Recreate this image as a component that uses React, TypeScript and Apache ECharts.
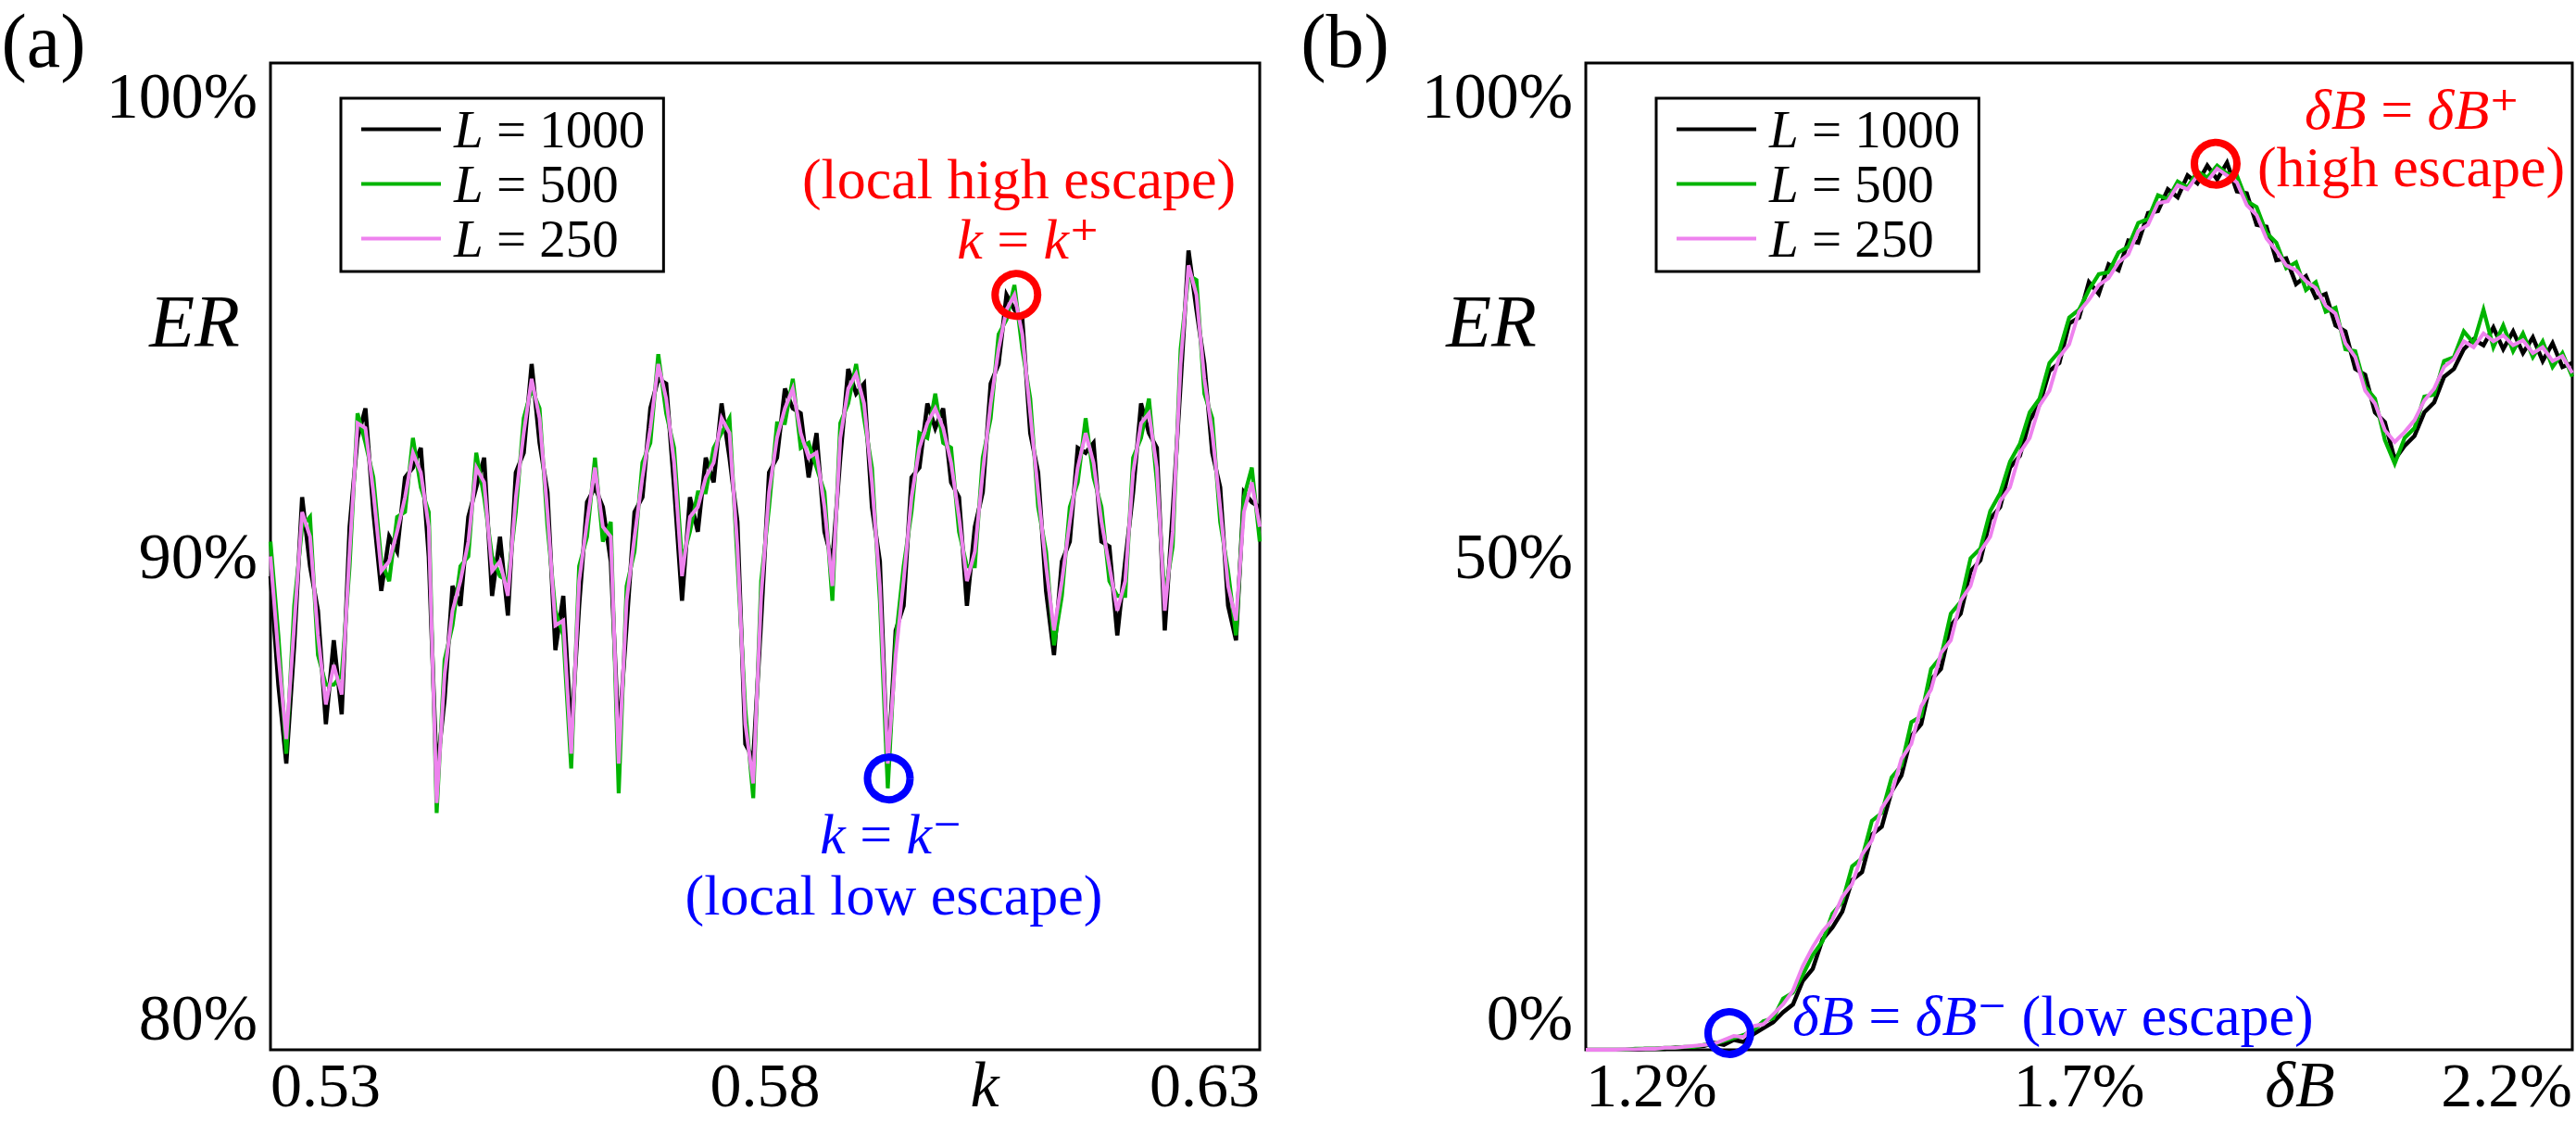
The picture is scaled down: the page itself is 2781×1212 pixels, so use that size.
import React, { useEffect, useRef } from 'react';
import * as echarts from 'echarts';

// ---------- data ----------
const seriesNames = ['L = 1000', 'L = 500', 'L = 250'];
const seriesColors = ['#000000', '#00b400', '#ee82ee'];

// panel (a): k axis
const kTicks = [0.53, 0.58, 0.63];
const erTicksA = [80, 90, 100];
const kStart = 0.53;
const kStep = 0.0008;

const erA1000 = [
  89.6, 87.4, 85.8, 88.2, 91.2, 89.8, 88.9, 86.6, 88.3, 86.8,
  90.6, 92.4, 93.0, 90.9, 89.3, 90.4, 90.1, 91.6, 91.8, 92.2,
  90.0, 85.6, 87.1, 89.4, 89.0, 90.8, 91.4, 92.0, 89.2, 90.4,
  88.8, 91.7, 92.1, 93.9, 92.3, 91.3, 88.1, 89.2, 86.4, 89.0,
  91.1, 91.4, 91.0, 89.9, 86.3, 88.6, 90.9, 91.2, 93.0, 93.6,
  93.5, 91.4, 89.1, 91.2, 90.5, 92.0, 91.5, 93.1, 92.0, 90.7,
  86.2, 85.9, 88.7, 91.7, 92.0, 93.4, 93.0, 92.9, 91.6, 92.5,
  90.5, 89.9, 92.0, 93.8, 93.3, 93.5, 91.0, 89.9, 85.6, 88.5,
  89.0, 91.6, 91.8, 93.1, 92.6, 93.0, 91.5, 91.2, 89.0, 90.6,
  91.3, 93.5, 93.9, 95.3, 95.0, 94.8, 92.5, 91.7, 89.3, 88.0,
  89.9, 90.3, 92.2, 92.1, 92.3, 90.3, 90.2, 88.4, 89.9, 91.3,
  93.1, 92.5, 92.2, 88.5, 90.9, 93.5, 96.2, 95.0, 93.9, 92.1,
  91.4, 89.0, 88.3, 91.3, 91.1, 91.0,
];
const erA500 = [
  90.3, 88.4, 86.0, 89.0, 90.6, 90.8, 88.0, 87.4, 87.4, 87.6,
  89.8, 92.9, 92.3, 91.6, 89.9, 89.5, 90.8, 90.9, 92.4, 91.4,
  90.9, 84.8, 87.9, 88.6, 89.8, 90.0, 92.1, 91.2, 90.0, 89.6,
  89.5, 90.9, 92.8, 93.4, 93.0, 90.6, 88.9, 88.4, 85.7, 89.8,
  90.4, 92.0, 90.3, 90.7, 85.2, 89.4, 90.1, 91.9, 92.3, 94.1,
  92.9, 92.2, 89.9, 90.5, 91.3, 91.3, 92.2, 92.5, 92.8, 89.9,
  86.9, 85.1, 89.5, 91.0, 92.7, 92.7, 93.6, 92.2, 92.3, 91.8,
  91.3, 89.1, 92.7, 93.1, 93.9, 92.8, 91.8, 89.1, 85.3, 88.3,
  89.8, 90.9, 92.5, 92.4, 93.3, 92.3, 92.2, 90.5, 89.8, 89.8,
  92.0, 92.8, 94.5, 94.8, 95.5, 94.2, 93.2, 91.0, 90.1, 88.2,
  89.2, 91.0, 91.5, 92.8, 91.6, 91.0, 89.5, 89.2, 89.2, 92.0,
  92.4, 93.2, 91.5, 89.2, 90.2, 94.2, 95.7, 95.6, 93.3, 92.8,
  90.7, 89.7, 88.4, 91.2, 91.8, 90.3,
];
const erA250 = [
  90.0, 88.0, 86.3, 88.6, 90.9, 90.4, 88.4, 87.0, 87.8, 87.2,
  90.1, 92.7, 92.6, 91.3, 89.7, 89.9, 90.5, 91.2, 92.1, 91.7,
  90.6, 85.0, 87.6, 88.9, 89.5, 90.3, 91.8, 91.5, 89.7, 89.9,
  89.2, 91.2, 92.5, 93.6, 92.8, 90.9, 88.6, 88.7, 86.0, 89.5,
  90.7, 91.8, 90.6, 90.4, 85.8, 89.1, 90.4, 91.6, 92.6, 93.9,
  93.2, 91.9, 89.6, 90.8, 91.0, 91.6, 91.9, 92.8, 92.5, 90.2,
  86.6, 85.4, 89.2, 91.3, 92.4, 93.0, 93.4, 92.5, 92.0, 92.1,
  91.0, 89.4, 92.4, 93.4, 93.7, 93.1, 91.5, 89.4, 85.8, 88.0,
  89.5, 91.2, 92.2, 92.7, 93.0, 92.6, 91.9, 90.8, 89.5, 90.1,
  91.7, 93.1, 94.2, 95.0, 95.3, 94.5, 92.9, 91.3, 89.8, 88.5,
  89.5, 90.7, 91.8, 92.5, 91.9, 90.7, 89.8, 88.9, 89.5, 91.7,
  92.7, 92.9, 91.8, 88.9, 90.5, 93.9, 95.9, 95.3, 93.6, 92.5,
  91.0, 89.4, 88.7, 90.9, 91.5, 90.6,
];

// panel (b): deltaB axis
const dbTicks = [1.2, 1.7, 2.2];
const erTicksB = [0, 50, 100];
const dbStart = 1.2;
const dbStep = 0.01;

const erB1000 = [
  0, 0, 0, 0, 0, 0, 0.1, 0.1, 0.1, 0.2,
  0.2, 0.3, 0.4, 0.7, 0.5, 1.0, 0.8, 1.6, 2.2, 2.8,
  3.8, 4.6, 7.0, 8.2, 11.2, 12.4, 14.0, 17.2, 18.0, 21.8,
  22.6, 26.2, 27.8, 31.8, 33.0, 37.5, 38.6, 43.0, 44.2, 48.5,
  49.6, 53.8, 55.0, 59.0, 60.2, 63.8, 65.4, 68.8, 69.6, 73.6,
  74.2, 77.8, 76.6, 79.6, 79.0, 82.0, 81.8, 84.8, 85.0, 87.2,
  86.4, 88.6, 87.8, 89.6, 88.2, 89.9, 87.0, 86.8, 83.6, 83.4,
  80.0, 80.2, 77.6, 78.4, 76.2, 76.6, 73.4, 72.8, 69.0, 68.4,
  64.6, 63.6, 59.8, 61.2, 62.2, 64.6, 65.6, 68.2, 69.0, 71.0,
  72.0, 71.4, 73.2, 71.0, 72.8, 70.6, 72.2, 69.8, 71.6, 69.2,
  69.6,
];
const erB500 = [
  0, 0, 0, 0, 0, 0.1, 0.1, 0.1, 0.2, 0.2,
  0.3, 0.3, 0.5, 0.6, 0.9, 1.2, 1.5, 2.0, 2.9, 3.2,
  5.2, 5.8, 7.6, 9.6, 11.0, 13.8, 15.0, 18.6, 19.4, 23.2,
  24.0, 27.6, 28.8, 33.2, 33.8, 38.6, 39.8, 44.2, 45.4, 49.8,
  50.8, 54.6, 56.4, 59.6, 61.4, 64.6, 66.0, 69.6, 70.8, 74.2,
  75.0, 77.0, 78.6, 78.8, 80.8, 81.4, 83.8, 84.2, 86.6, 86.2,
  88.0, 87.4, 89.0, 88.4, 89.6, 88.8, 88.6, 86.0, 85.4, 82.8,
  81.8, 79.2, 79.8, 77.0, 77.8, 74.8, 75.2, 71.0, 70.8, 67.2,
  66.0, 61.8, 59.4, 62.0, 63.0, 66.2, 66.4, 69.8, 70.2, 72.8,
  71.6, 75.0, 71.2, 73.4, 70.8, 72.6, 70.2, 71.8, 69.2, 70.6,
  68.2,
];
const erB250 = [
  0, 0, 0, 0, 0.05, 0.05, 0.1, 0.1, 0.2, 0.2,
  0.3, 0.4, 0.5, 0.6, 1.0, 1.4, 1.3, 2.4, 2.6, 3.6,
  4.6, 6.0, 8.5, 10.4, 12.0, 13.2, 15.5, 16.8, 19.8, 21.2,
  24.5, 26.0, 29.5, 31.0, 34.8, 36.5, 40.2, 41.5, 45.5, 47.0,
  50.5, 52.0, 55.6, 57.0, 60.5, 62.0, 65.3, 66.8, 70.2, 71.5,
  74.8, 76.0, 77.5, 78.2, 79.8, 80.6, 83.0, 83.6, 85.8, 86.0,
  87.6, 87.2, 88.6, 88.0, 89.3, 88.6, 87.9, 85.6, 84.6, 82.2,
  81.0, 79.5, 79.0, 77.9, 77.2, 75.4, 74.6, 71.6, 70.2, 66.8,
  65.5, 62.8, 61.6, 62.6, 63.8, 65.8, 67.0, 69.2, 70.0, 71.8,
  71.2, 72.6, 71.8, 72.4, 71.4, 71.9, 70.6, 71.2, 69.8, 70.3,
  68.6,
];

// highlighted points [x, ER]
const markALow = [0.5925, 85.5];
const markAHigh = [0.6054, 95.3];
const markBLow = [1.3455, 1.7];
const markBHigh = [1.8385, 89.8];

// ---------- chart ----------
const FONT = '"Liberation Serif", "DejaVu Serif", serif';
const W = 2781;
const H = 1212;

function pairs(start: number, step: number, values: number[]) {
  return values.map((v, i) => [start + step * i, v]);
}

function lineSeries(name: string, color: string, width: number, xi: number, data: number[][], z: number) {
  return {
    type: 'line',
    name,
    xAxisIndex: xi,
    yAxisIndex: xi,
    data,
    showSymbol: false,
    symbol: 'none',
    lineStyle: { color, width, join: 'miter' },
    itemStyle: { color },
    z,
    silent: true,
  };
}

function circleSeries(xi: number, point: number[], color: string) {
  return {
    type: 'scatter',
    xAxisIndex: xi,
    yAxisIndex: xi,
    data: [point],
    symbol: 'circle',
    symbolSize: 46,
    itemStyle: { color: 'rgba(0,0,0,0)', borderColor: color, borderWidth: 8, opacity: 1 },
    z: 20,
    silent: true,
  };
}

function legendAt(left: number) {
  const base = { fontFamily: FONT, fontSize: 57, color: '#000' };
  return {
    data: seriesNames,
    orient: 'vertical',
    left,
    top: 106,
    icon: 'rect',
    itemWidth: 86,
    itemHeight: 4,
    itemGap: 2,
    padding: [5, 20, 7, 22],
    borderColor: '#000',
    borderWidth: 3,
    borderRadius: 0,
    backgroundColor: '#fff',
    selectedMode: false,
    formatter: (name: string) => '{i|L}{n| = ' + name.slice(4) + '}',
    textStyle: {
      ...base,
      lineHeight: 55,
      rich: {
        i: { ...base, fontStyle: 'italic', padding: [0, 0, 0, 9], lineHeight: 55 },
        n: { ...base, lineHeight: 55 },
      },
    },
    z: 30,
  };
}

function text(x: number, y: number, str: string, size: number, color: string, align = 'center', italic = false) {
  return {
    type: 'text',
    x,
    y,
    z: 40,
    silent: true,
    style: {
      text: str,
      fill: color,
      fontFamily: FONT,
      fontSize: size,
      fontStyle: italic ? 'italic' : 'normal',
      align,
      verticalAlign: 'middle',
    },
  };
}

function richText(x: number, y: number, str: string, size: number, color: string, align = 'center') {
  const base = { fontFamily: FONT, fontSize: size, fill: color };
  return {
    type: 'text',
    x,
    y,
    z: 40,
    silent: true,
    style: {
      text: str,
      ...base,
      align,
      verticalAlign: 'middle',
      rich: {
        i: { ...base, fontStyle: 'italic' },
        r: { ...base },
      },
    },
  };
}

function buildOption() {
  const names = seriesNames;
  const xLabel = { fontFamily: FONT, fontSize: 68, color: '#000', margin: 4 };
  const yLabel = { fontFamily: FONT, fontSize: 70, color: '#000', margin: 14 };
  const hidden = { axisLine: { show: false }, axisTick: { show: false }, splitLine: { show: false } };
  return {
    animation: false,
    backgroundColor: '#ffffff',
    grid: [
      { left: 292, top: 68, width: 1068, height: 1065, show: true, borderColor: '#000', borderWidth: 3, backgroundColor: 'transparent', containLabel: false },
      { left: 1712, top: 68, width: 1065, height: 1065, show: true, borderColor: '#000', borderWidth: 3, backgroundColor: 'transparent', containLabel: false },
    ],
    xAxis: [
      {
        type: 'value', gridIndex: 0, min: 0.53, max: 0.63, ...hidden,
        axisLabel: {
          ...xLabel, customValues: kTicks,
          alignMinLabel: 'left', alignMaxLabel: 'right',
          formatter: (v: number) => v.toFixed(2),
        },
      },
      {
        type: 'value', gridIndex: 1, min: 1.2, max: 2.2, ...hidden,
        axisLabel: {
          ...xLabel, customValues: dbTicks,
          alignMinLabel: 'left', alignMaxLabel: 'right',
          formatter: (v: number) => v.toFixed(1) + '%',
        },
      },
    ],
    yAxis: [
      {
        type: 'value', gridIndex: 0, min: 80, max: 100, ...hidden,
        axisLabel: {
          ...yLabel, customValues: erTicksA,
          verticalAlignMinLabel: 'bottom', verticalAlignMaxLabel: 'top',
          formatter: (v: number) => Math.round(v) + '%',
        },
      },
      {
        type: 'value', gridIndex: 1, min: 0, max: 100, ...hidden,
        axisLabel: {
          ...yLabel, customValues: erTicksB,
          verticalAlignMinLabel: 'bottom', verticalAlignMaxLabel: 'top',
          formatter: (v: number) => Math.round(v) + '%',
        },
      },
    ],
    legend: [legendAt(368), legendAt(1788)],
    series: [
      lineSeries(names[0], seriesColors[0], 4.5, 0, pairs(kStart, kStep, erA1000), 3),
      lineSeries(names[1], seriesColors[1], 4.2, 0, pairs(kStart, kStep, erA500), 4),
      lineSeries(names[2], seriesColors[2], 4, 0, pairs(kStart, kStep, erA250), 5),
      lineSeries(names[0], seriesColors[0], 4.5, 1, pairs(dbStart, dbStep, erB1000), 3),
      lineSeries(names[1], seriesColors[1], 4.2, 1, pairs(dbStart, dbStep, erB500), 4),
      lineSeries(names[2], seriesColors[2], 4, 1, pairs(dbStart, dbStep, erB250), 5),
      circleSeries(0, markALow, '#0000ff'),
      circleSeries(0, markAHigh, '#ff0000'),
      circleSeries(1, markBLow, '#0000ff'),
      circleSeries(1, markBHigh, '#ff0000'),
    ],
    graphic: [
      text(47, 44, '(a)', 82, '#000'),
      text(1452, 44, '(b)', 82, '#000'),
      text(210, 347, 'ER', 80, '#000', 'center', true),
      text(1610, 347, 'ER', 80, '#000', 'center', true),
      text(1063, 1170, 'k', 70, '#000', 'center', true),
      text(2483, 1170, 'δB', 70, '#000', 'center', true),
      text(1100, 193, '(local high escape)', 62, '#ff0000'),
      richText(1110, 258, '{i|k}{r| = }{i|k}{r|⁺}', 62, '#ff0000'),
      richText(962, 900, '{i|k}{r| = }{i|k}{r|⁻}', 62, '#0000ff'),
      text(965, 966, '(local low escape)', 62, '#0000ff'),
      richText(2604, 118, '{i|δB}{r| = }{i|δB}{r|⁺}', 62, '#ff0000'),
      text(2603, 180, '(high escape)', 62, '#ff0000'),
      richText(1935, 1096, '{i|δB}{r| = }{i|δB}{r|⁻ (low escape)}', 62, '#0000ff', 'left'),
    ],
  };
}

export default function App() {
  const ref = useRef<HTMLDivElement>(null);
  useEffect(() => {
    if (!ref.current) return;
    const chart = echarts.init(ref.current, null, { renderer: 'svg', width: W, height: H });
    chart.setOption(buildOption() as any);
    return () => chart.dispose();
  }, []);
  return (
    <div
      ref={ref}
      style={{ position: 'absolute', left: 0, top: 0, width: W, height: H, background: '#fff' }}
    />
  );
}
